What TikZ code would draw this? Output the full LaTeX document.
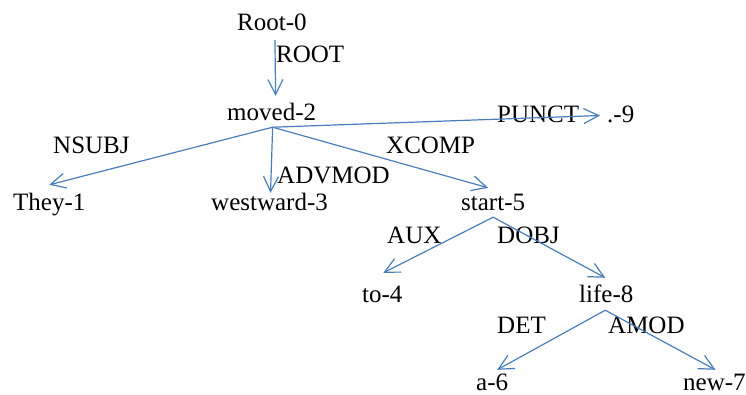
\documentclass[tikz,border=0pt]{standalone}
\usepackage{fontspec}
\setmainfont{Liberation Serif}
\usetikzlibrary{arrows.meta,calc}
\definecolor{deplink}{RGB}{74,126,187}
\tikzset{
  word/.style={anchor=base west,inner sep=0pt,text height=17pt,text depth=6pt,
    font=\fontsize{25}{30}\selectfont},
  rel/.style={word},
  dep/.style={draw=deplink,line width=1.2pt,
    -{Straight Barb[length=15pt,width=15pt,line width=1.2pt]}}
}
\begin{document}
\begin{tikzpicture}[x=1pt,y=-1pt]
\useasboundingbox (0,0) rectangle (746,394);
% words of the sentence
\node[word] (root)     at (237,30)  {Root-0};
\node[word] (moved)    at (227,120) {moved-2};
\node[word] (they)     at (13,210)  {They-1};
\node[word] (westward) at (211,210) {westward-3};
\node[word] (start)    at (461,210) {start-5};
\node[word] (punct)    at (607,122) {.-9};
\node[word] (to)       at (362,302) {to-4};
\node[word] (life)     at (579,302) {life-8};
\node[word] (a)        at (476,390) {a-6};
\node[word] (new)      at (683,390) {new-7};
% relation labels
\node[rel] (lroot)   at (276,62)  {ROOT};
\node[rel] (lnsubj)  at (53,153)  {NSUBJ};
\node[rel] (ladvmod) at (277,183) {ADVMOD};
\node[rel] (lxcomp)  at (386,153) {XCOMP};
\node[rel] (lpunct)  at (497,122) {PUNCT};
\node[rel] (laux)    at (387,243) {AUX};
\node[rel] (ldobj)   at (497,243) {DOBJ};
\node[rel] (ldet)    at (497,333) {DET};
\node[rel] (lamod)   at (608,333) {AMOD};
% dependency arcs
\draw[dep] ($(root.south)+(3,4)$) -- ($(moved.north)+(4,-7)$);
\draw[dep] ($(moved.south)+(1,1)$) -- ($(they.north)+(0,-8)$);
\draw[dep] ($(moved.south)+(1,1)$) -- ($(westward.north)+(1,0)$);
\draw[dep] ($(moved.south)+(1,1)$) -- ($(start.north)+(-5,-5)$);
\draw[dep] ($(moved.south)+(1,1)$) -- ($(punct.west)+(-7,-1)$);
\draw[dep] ($(start.south)+(0,1)$) -- ($(to.north)+(1,-12)$);
\draw[dep] ($(start.south)+(0,1)$) -- ($(life.north)+(-1,-7)$);
\draw[dep] ($(life.south)+(-1,2)$) -- ($(a.north)+(5,-3)$);
\draw[dep] ($(life.south)+(-1,2)$) -- ($(new.north)+(1,-3)$);
\end{tikzpicture}
\end{document}
